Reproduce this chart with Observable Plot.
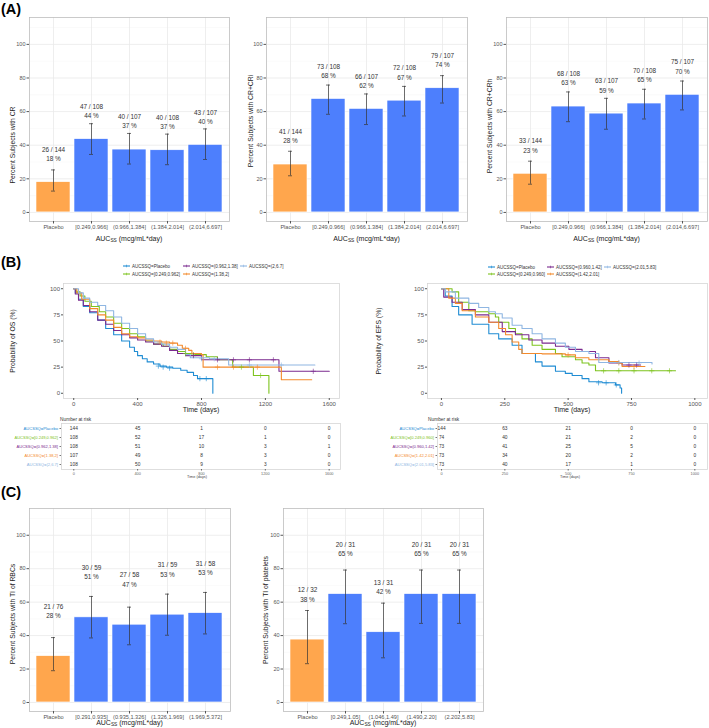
<!DOCTYPE html>
<html><head><meta charset="utf-8">
<script src="https://cdn.jsdelivr.net/npm/d3@7"></script>
<script src="https://cdn.jsdelivr.net/npm/@observablehq/plot@0.6"></script>
<style>
body{margin:0;background:#fff;}
#root{position:relative;width:709px;height:728px;overflow:hidden;background:#fff;}
</style>
</head><body><div id="root"></div>
<script>
// ---------------- DATA ----------------
const crCats = ["Placebo","[0.249,0.966]","(0.966,1.384]","(1.384,2.014]","(2.014,6.697]"];
const crPct = [18, 43.6, 37.4, 37, 40.2];
const crLo = [12.7, 34.5, 28.8, 28.4, 31.5];
const crHi = [25.3, 52.8, 47, 46.6, 49.7];
const crN = [26, 47, 40, 40, 43];
const crTot = [144, 108, 107, 108, 107];
const crLab = [18, 44, 37, 37, 40];

const criPct = [28.5, 67.5, 61.6, 66.5, 73.9];
const criLo = [21.8, 58.4, 52.3, 57.4, 65.1];
const criHi = [36.4, 75.8, 70.5, 75, 81.4];
const criN = [41, 73, 66, 72, 79];
const criTot = [144, 108, 107, 108, 107];
const criLab = [28, 68, 62, 67, 74];

const crhPct = [23, 63, 58.8, 64.8, 70];
const crhLo = [16.8, 54, 49.5, 55.6, 61];
const crhHi = [30.5, 71.7, 67.9, 73.3, 78.2];
const crhN = [33, 68, 63, 70, 75];
const crhTot = [144, 108, 107, 108, 107];
const crhLab = [23, 63, 59, 65, 70];

const rbcCats = ["Placebo","[0.291,0.935]","(0.935,1.326]","(1.326,1.969]","(1.969,5.372]"];
const rbcPct = [27.7, 50.9, 46.5, 52.5, 53.4];
const rbcLo = [19, 38.6, 34.5, 40.2, 41];
const rbcHi = [38.8, 63.4, 57, 64.8, 65.8];
const rbcN = [21, 30, 27, 31, 31];
const rbcTot = [76, 59, 58, 59, 58];
const rbcLab = [28, 51, 47, 53, 53];

const pltCats = ["Placebo","[0.249,1.05]","(1.046,1.49]","(1.490,2.20]","(2.202,5.83]"];
const pltPct = [37.6, 64.8, 42, 64.8, 64.8];
const pltLo = [23.2, 47.1, 26.7, 47.3, 47.3];
const pltHi = [55, 79.2, 59.4, 79.2, 79.2];
const pltN = [12, 20, 13, 20, 20];
const pltTot = [32, 31, 31, 31, 31];
const pltLab = [38, 65, 42, 65, 65];

const barTicks = [0, 20, 40, 60, 80, 100];
const barMinor = [10, 30, 50, 70, 90, 110];

// Overall survival (days, %)
const osGroups = ["AUCSSQ=Placebo","AUCSSQ=[0.249,0.962]","AUCSSQ=(0.962,1.38]","AUCSSQ=(1.38,2]","AUCSSQ=(2,6.7]"];
const osPlacebo = [[0,100],[10,96],[30,90],[60,83],[100,77],[150,70],[200,62],[250,56],[300,50],[350,44],[380,40],[400,36],[430,33],[460,30],[500,28],[540,26],[580,25],[620,24],[670,22],[710,20],[750,17],[775,14],[871,0]];
const osQ1 = [[0,100],[15,97],[40,93],[70,88],[110,83],[160,78],[200,73],[250,67],[300,62],[350,57],[400,54],[450,50],[500,47],[560,45],[600,42],[650,40],[700,38],[760,37],[830,35],[900,32],[995,25],[1125,17],[1222,0]];
const osQ2 = [[0,100],[10,95],[30,89],[60,84],[100,78],[150,70],[200,66],[250,60],[300,56],[350,53],[400,51],[450,49],[500,47],[550,45],[600,41],[650,38],[700,36],[800,32],[1285,21],[1600,21]];
const osQ3 = [[0,100],[20,96],[50,90],[100,81],[150,75],[200,70],[250,63],[300,57],[350,54],[400,53],[450,51],[500,50],[550,49],[600,48],[650,46],[680,43],[720,41],[740,38],[800,37],[810,25],[1300,13],[1490,13]];
const osQ4 = [[0,100],[30,96],[60,91],[100,87],[150,84],[200,79],[250,73],[300,67],[350,62],[400,57],[450,52],[500,49],[550,47],[600,44],[650,42],[700,37],[730,34],[850,33],[970,27],[1510,27]];
const osCens = [
  [[530,26],[560,25],[600,24],[790,14],[830,14]],
  [[700,38],[750,37],[1050,25],[1170,17]],
  [[750,36],[900,32],[1000,32],[1100,32],[1250,32],[1500,21]],
  [[540,49],[580,48],[620,48],[700,43],[900,25],[1000,25],[1150,25]],
  [[800,33],[880,33],[1100,27],[1300,27]]
];
const osTimes = [0, 400, 800, 1200, 1600];
const osRisk = [[144,45,1,0,0],[108,52,17,1,0],[108,51,10,3,1],[107,49,8,3,0],[108,50,9,3,0]];

// Event-free survival (days, %)
const efsGroups = ["AUCSSQ=Placebo","AUCSSQ=[0.249,0.960]","AUCSSQ=(0.960,1.42]","AUCSSQ=(1.42,2.01]","AUCSSQ=(2.01,5.83]"];
const efsPlacebo = [[0,100],[15,93],[42,83],[68,75],[121,66],[187,57],[226,52],[279,46],[318,38],[371,30],[397,26],[450,21],[489,19],[516,17],[555,14],[582,11],[634,10],[687,8],[705,5],[711,0]];
const efsQ1 = [[0,100],[42,97],[68,87],[108,79],[134,78],[187,76],[213,73],[226,68],[266,62],[292,57],[318,52],[358,46],[397,42],[450,38],[476,35],[529,32],[555,29],[582,27],[608,21.5],[924,21.5]];
const efsQ2 = [[0,100],[9,92],[42,87],[82,80],[134,75],[187,68],[240,59],[292,56],[345,51],[397,48],[450,45],[503,42],[555,40],[608,34],[661,29],[713,27],[786,27]];
const efsQ3 = [[0,100],[29,91],[55,86],[82,79],[134,73],[187,68],[226,62],[253,56],[279,49],[305,42],[318,38],[397,37.7],[489,36.7],[529,34],[582,32],[661,30.4],[700,29],[713,25.6],[803,25.6]];
const efsQ4 = [[0,100],[16,97],[55,91],[108,86],[147,82],[187,78],[213,76],[240,72],[279,65],[318,62],[358,57],[397,52],[450,48],[489,44],[529,40],[582,38],[621,29.4],[831,28]];
const efsCens = [
  [[620,10],[650,10],[690,8]],
  [[640,21.5],[700,21.5],[760,21.5],[830,21.5],[900,21.5]],
  [[740,27],[770,27]],
  [[500,36.7],[700,29],[760,25.6]],
  [[700,29.4],[780,29]]
];
const efsTimes = [0, 250, 500, 750, 1000];
const efsRisk = [[144,63,21,0,0],[74,40,21,2,0],[73,41,25,5,0],[73,34,20,2,0],[73,40,17,1,0]];

const kmColors = ["#1F8CD3","#7DC31E","#7B2A8E","#F38A2C","#8FB6E2"];

// ---------------- HELPERS ----------------
const FONT = "'Liberation Sans', Arial, Helvetica, sans-serif";
const ORANGE = "#FFA64D", BLUE = "#4D7FFD";
const root = document.getElementById("root");
const plain = d => String(d);
function place(el, left, top){
  el.style.position = "absolute"; el.style.left = left + "px"; el.style.top = top + "px";
  root.appendChild(el);
}
const baseStyle = {fontFamily: FONT, fontSize: "6px", background: "transparent", overflow: "visible"};

function barChart(fx0, fx1, fy0, fy1, cats, pct, lo, hi, n, N, lab, labelDy){
  const mL = 25, mR = 4, mT = 5, mB = 12;
  const rows = cats.map((c, i) => ({cat: c, pct: pct[i], lo: lo[i], hi: hi[i],
    grp: i === 0 ? "Placebo" : "Active", label: `${n[i]} / ${N[i]}\n${lab[i]} %`}));
  const p = Plot.plot({
    width: fx1 - fx0 + mL + mR, height: fy1 - fy0 + mT + mB,
    marginLeft: mL, marginRight: mR, marginTop: mT, marginBottom: mB,
    style: baseStyle,
    x: {type: "band", domain: cats, paddingInner: 0.1, paddingOuter: 0.15},
    y: {domain: [-5.4, 116]},
    color: {domain: ["Placebo", "Active"], range: [ORANGE, BLUE]},
    marks: [
      Plot.ruleY(barMinor, {stroke: "#F4F4F4", strokeWidth: 0.5}),
      Plot.ruleY(barTicks, {stroke: "#EAEAEA", strokeWidth: 0.8}),
      Plot.ruleX(cats, {stroke: "#EAEAEA", strokeWidth: 0.8}),
      Plot.barY(rows, {x: "cat", y1: 0, y2: "pct", fill: "grp", stroke: "#fff", strokeWidth: 0.6}),
      Plot.ruleX(rows, {x: "cat", y1: "lo", y2: "hi", stroke: "#333", strokeWidth: 0.7}),
      Plot.tickY(rows, {x: "cat", y: "lo", stroke: "#333", strokeWidth: 0.7, insetLeft: 15, insetRight: 15}),
      Plot.tickY(rows, {x: "cat", y: "hi", stroke: "#333", strokeWidth: 0.7, insetLeft: 15, insetRight: 15}),
      Plot.text(rows, {x: "cat", y: "pct", text: "label", dy: labelDy, fontSize: 6.4, fill: "#333", lineHeight: 1.45}),
      Plot.frame({stroke: "#BDBDBD", strokeWidth: 0.8}),
      Plot.axisY({ticks: barTicks, tickSize: 2.5, tickPadding: 1.5, fontSize: 5.5, color: "#555", label: null, tickFormat: plain}),
      Plot.axisX({tickSize: 2.5, tickPadding: 1, fontSize: 5.6, color: "#555", label: null})
    ]
  });
  place(p, fx0 - mL, fy0 - mT);
}

function kmChart(fx0, fx1, fy0, fy1, xdom, xticks, groups, curves, cens){
  const mL = 20, mR = 3, mT = 3, mB = 10;
  const rows = curves.flatMap((c, gi) => c.map(([t, s]) => ({g: groups[gi], t, s})));
  const crow = cens.flatMap((c, gi) => c.map(([t, s]) => ({g: groups[gi], t, s})));
  const p = Plot.plot({
    width: fx1 - fx0 + mL + mR, height: fy1 - fy0 + mT + mB,
    marginLeft: mL, marginRight: mR, marginTop: mT, marginBottom: mB,
    style: baseStyle,
    x: {domain: xdom},
    y: {domain: [-5, 105]},
    color: {domain: groups, range: kmColors},
    marks: [
      Plot.frame({stroke: "#D6D6D6", strokeWidth: 0.8}),
      Plot.line(rows, {x: "t", y: "s", z: "g", stroke: "g", curve: "step-after", strokeWidth: 1.1}),
      Plot.dot(crow, {x: "t", y: "s", stroke: "g", symbol: "plus", r: 1.8, strokeWidth: 0.6}),
      Plot.axisX({ticks: xticks, tickSize: 2, tickPadding: 1, fontSize: 6, color: "#555", label: null, tickFormat: plain}),
      Plot.axisY({ticks: [0, 25, 50, 75, 100], tickSize: 2, tickPadding: 1.5, fontSize: 6, color: "#555", label: null, tickFormat: plain})
    ]
  });
  place(p, fx0 - mL, fy0 - mT);
}

function riskTable(fx0, fx1, fy0, fy1, xdom, xticks, groups, risk){
  const mL = 60, mR = 3, mT = 2, mB = 8;
  const rows = groups.flatMap((g, gi) => xticks.map((t, ti) => ({g, t, n: risk[gi][ti]})));
  const p = Plot.plot({
    width: fx1 - fx0 + mL + mR, height: fy1 - fy0 + mT + mB,
    marginLeft: mL, marginRight: mR, marginTop: mT, marginBottom: mB,
    style: baseStyle,
    x: {domain: xdom},
    y: {type: "point", domain: groups, padding: 0.55},
    color: {domain: groups, range: kmColors},
    marks: [
      Plot.frame({stroke: "#D6D6D6", strokeWidth: 0.8}),
      Plot.text(rows, {x: "t", y: "g", text: "n", fontSize: 4.8, fill: "#333"}),
      Plot.text(groups, {y: d => d, text: d => d, frameAnchor: "left", textAnchor: "end", dx: -3.5, fill: d => d, fontSize: 4.1}),
      Plot.axisY({tickSize: 1.5, tickFormat: () => "", color: "#777", label: null}),
      Plot.axisX({ticks: xticks, tickSize: 1.5, tickPadding: 0.8, fontSize: 3.8, color: "#666", label: null, tickFormat: plain})
    ]
  });
  place(p, fx0 - mL, fy0 - mT);
}

// ---------------- PANEL A ----------------
barChart(29, 229, 17, 221, crCats, crPct, crLo, crHi, crN, crTot, crLab, -28.7);
barChart(266, 467, 17, 221, crCats, criPct, criLo, criHi, criN, criTot, criLab, -28.7);
barChart(506, 707, 17, 221, crCats, crhPct, crhLo, crhHi, crhN, crhTot, crhLab, -28.7);

// ---------------- PANEL B ----------------
kmChart(63, 339, 283, 398, [-64, 1664], osTimes, osGroups, [osPlacebo, osQ1, osQ2, osQ3, osQ4], osCens);
kmChart(427, 707, 283, 398, [-55, 1050], efsTimes, efsGroups, [efsPlacebo, efsQ1, efsQ2, efsQ3, efsQ4], efsCens);
riskTable(61, 340, 423, 469, [-77, 1671], osTimes, osGroups, osRisk);
riskTable(437, 707, 423, 469, [-16, 1050], efsTimes, efsGroups, efsRisk);

// ---------------- PANEL C ----------------
barChart(29, 230, 508, 711, rbcCats, rbcPct, rbcLo, rbcHi, rbcN, rbcTot, rbcLab, -45.6);
barChart(283, 483, 508, 711, pltCats, pltPct, pltLo, pltHi, pltN, pltTot, pltLab, -45.6);

// ---------------- OVERLAY TEXT (titles, legends) ----------------
const ov = d3.create("svg").attr("width", 709).attr("height", 728)
  .style("position", "absolute").style("left", "0px").style("top", "0px")
  .style("pointer-events", "none").style("font-family", FONT);
root.appendChild(ov.node());

function panelLabel(t, x, y){
  ov.append("text").attr("x", x).attr("y", y).attr("dominant-baseline", "central")
    .attr("font-size", 14.5).attr("font-weight", "bold").attr("fill", "#000").text(t);
}
panelLabel("(A)", 1, 9); panelLabel("(B)", 1, 262); panelLabel("(C)", 1, 492);

function yTitle(t, x, y, fs = 6.8){
  ov.append("text").attr("transform", `translate(${x},${y}) rotate(-90)`)
    .attr("text-anchor", "middle").attr("dominant-baseline", "central")
    .attr("font-size", fs).attr("fill", "#222").text(t);
}
function xTitleAUC(x, y){
  const t = ov.append("text").attr("x", x).attr("y", y).attr("text-anchor", "middle")
    .attr("dominant-baseline", "central").attr("font-size", 7).attr("fill", "#222");
  t.append("tspan").text("AUC");
  t.append("tspan").attr("font-size", 4.8).attr("dy", 1.6).text("SS");
  t.append("tspan").attr("dy", -1.6).text(" (mcg/mL*day)");
}
function plainText(t, x, y, fs, anchor = "middle", fill = "#222"){
  ov.append("text").attr("x", x).attr("y", y).attr("text-anchor", anchor)
    .attr("dominant-baseline", "central").attr("font-size", fs).attr("fill", fill).text(t);
}

yTitle("Percent Subjects with CR", 12, 145);
yTitle("Percent Subjects with CR+CRi", 250, 121);
yTitle("Percent Subjects with CR+CRh", 489, 126);
xTitleAUC(129, 238); xTitleAUC(366.5, 238); xTitleAUC(606.5, 238);

yTitle("Percent Subjects with TI of RBCs", 12.5, 614);
yTitle("Percent Subjects with TI of platelets", 265, 610);
xTitleAUC(129.5, 722); xTitleAUC(383, 722);

yTitle("Probability of OS (%)", 12, 341);
yTitle("Probability of EFS (%)", 378, 341);
plainText("Time (days)", 201, 409, 7);
plainText("Time (days)", 572, 409, 7);

plainText("Number at risk", 60, 419, 4.8, "start", "#333");
plainText("Number at risk", 428, 419, 4.8, "start", "#333");
plainText("Time (days)", 197, 477, 3.8, "middle", "#444");
plainText("Time (days)", 570, 477, 3.8, "middle", "#444");

function legend(groups, cols, rowsY){
  // column-major: 2 rows
  groups.forEach((g, i) => {
    const col = Math.floor(i / 2), row = i % 2;
    const x = cols[col], y = rowsY[row];
    ov.append("line").attr("x1", x).attr("x2", x + 7).attr("y1", y).attr("y2", y)
      .attr("stroke", kmColors[i]).attr("stroke-width", 1.1);
    ov.append("line").attr("x1", x + 3.5).attr("x2", x + 3.5).attr("y1", y - 1.3).attr("y2", y + 1.3)
      .attr("stroke", kmColors[i]).attr("stroke-width", 0.6);
    plainText(g, x + 9, y, 4.5, "start", "#333");
  });
}
legend(osGroups, [123, 183, 240], [266, 274]);
legend(efsGroups, [488, 547, 604], [267, 274]);
</script>
</body></html>
